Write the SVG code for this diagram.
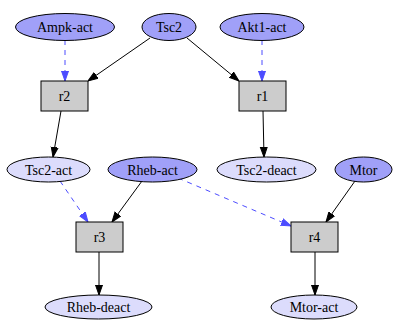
<svg xmlns="http://www.w3.org/2000/svg" width="393" height="320" viewBox="0 0 393 320">
<defs>
<marker id="ab" viewBox="0 0 10 10" refX="10" refY="5" markerWidth="10" markerHeight="10" markerUnits="userSpaceOnUse" orient="auto"><path d="M0,1.5 L10,5 L0,8.5 Z" fill="#000" stroke="#000"/></marker>
<marker id="au" viewBox="0 0 10 10" refX="10" refY="5" markerWidth="10" markerHeight="10" markerUnits="userSpaceOnUse" orient="auto"><path d="M0,1.5 L10,5 L0,8.5 Z" fill="#4c4cff" stroke="#4c4cff"/></marker>
</defs>
<style>
.d{fill:#a0a0f8;stroke:#000;stroke-width:1}
.l{fill:#dcdcfc;stroke:#000;stroke-width:1}
.r{fill:#cccccc;stroke:#000;stroke-width:1}
.e{fill:none;stroke:#000;stroke-width:1;marker-end:url(#ab)}
.m{fill:none;stroke:#4c4cff;stroke-width:1;stroke-dasharray:5,5;marker-end:url(#au)}
</style>
<g id="connectors">
<path class="m" d="M65,40 L65,81"/>
<path class="e" d="M150,38 L88,81"/>
<path class="e" d="M187,38 L239,81"/>
<path class="m" d="M262,40 L262,81"/>
<path class="e" d="M61,111 L53,157"/>
<path class="e" d="M263,111 L264,157"/>
<path class="m" d="M60,181 L88,222"/>
<path class="e" d="M142,181 L112,222"/>
<path class="m" d="M178,178 L291,226"/>
<path class="e" d="M355,181 L326,222"/>
<path class="e" d="M99,252 L99,295"/>
<path class="e" d="M315,252 L315,295"/>
</g>
<g id="Ampk-act"><ellipse class="d" cx="65" cy="27" rx="49.5" ry="13.5"/><text x="65" y="32" font-family="Liberation Serif" font-size="14" text-anchor="middle">Ampk-act</text></g>
<g id="Tsc2"><ellipse class="d" cx="169" cy="27" rx="27" ry="13.5"/><text x="169" y="32" style="font-family:'Liberation Serif';font-size:14px" text-anchor="middle">Tsc2</text></g>
<g id="Akt1-act"><ellipse class="d" cx="262" cy="27" rx="42" ry="13.5"/><text x="262" y="32" font-family="Times New Roman" font-size="14" text-anchor="middle">Akt1-act</text></g>
<g id="r2"><rect class="r" x="41" y="81" width="47" height="30"/><text x="64.5" y="101" font-family="serif" font-size="14" text-anchor="middle">r2</text></g>
<g id="r1"><rect class="r" x="239" y="81" width="47" height="30"/><text x="262.5" y="101" font-family="Liberation Serif" font-size="14" text-anchor="middle">r1</text></g>
<g id="Tsc2-act"><ellipse class="l" cx="48.5" cy="169.5" rx="41.5" ry="12.5"/><text x="48.5" y="174.5" font-family="Liberation Serif" font-size="14" text-anchor="middle">Tsc2-act</text></g>
<g id="Rheb-act"><ellipse class="d" cx="152.5" cy="169.5" rx="44.5" ry="12.5"/><text x="152.5" y="174.5" font-family="Liberation Serif" font-size="14" text-anchor="middle">Rheb-act</text></g>
<g id="Tsc2-deact"><ellipse class="l" cx="266.5" cy="169.5" rx="49.5" ry="12.5"/><text x="266.5" y="174.5" font-family="Liberation Serif" font-size="14" text-anchor="middle">Tsc2-deact</text></g>
<g id="Mtor"><ellipse class="d" cx="363.5" cy="169.5" rx="28.5" ry="12.5"/><text x="363.5" y="174.5" font-family="Liberation Serif" font-size="14" text-anchor="middle">Mtor</text></g>
<g id="r3"><rect class="r" x="76" y="222" width="47" height="30"/><text x="99.5" y="242" font-family="Liberation Serif" font-size="14" text-anchor="middle">r3</text></g>
<g id="r4"><rect class="r" x="291" y="222" width="47" height="30"/><text x="314.5" y="242" font-family="Liberation Serif" font-size="14" text-anchor="middle">r4</text></g>
<g id="Rheb-deact"><ellipse class="l" cx="98.5" cy="307" rx="53.5" ry="12"/><text x="98.5" y="312" font-family="Liberation Serif" font-size="14" text-anchor="middle">Rheb-deact</text></g>
<g id="Mtor-act"><ellipse class="l" cx="314" cy="307" rx="43" ry="12"/><text x="314" y="312" font-family="Liberation Serif" font-size="14" text-anchor="middle">Mtor-act</text></g>
</svg>
